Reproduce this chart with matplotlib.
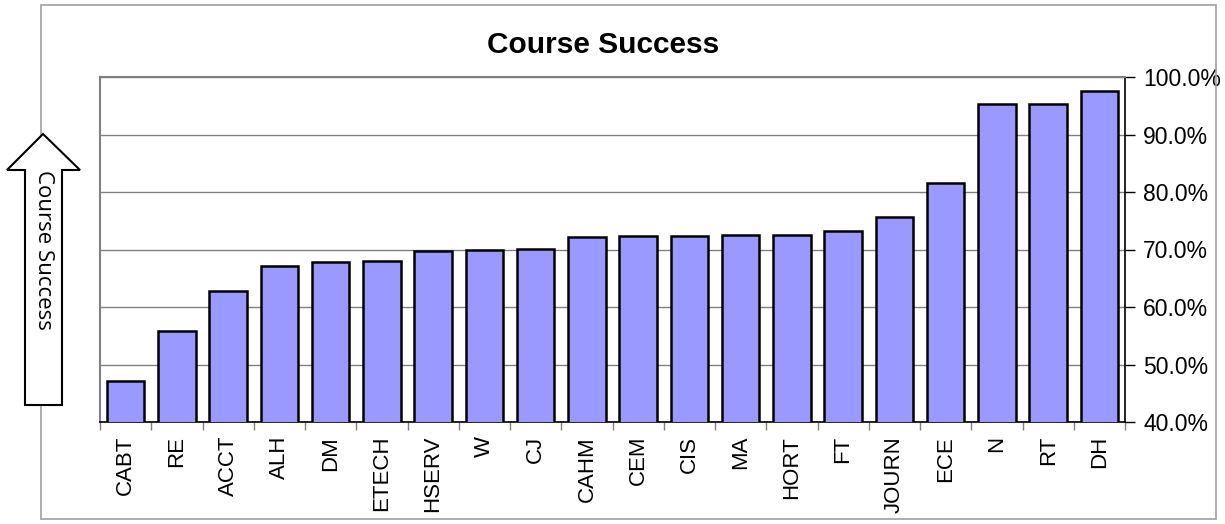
import matplotlib
matplotlib.use("Agg")
import matplotlib.pyplot as plt
from matplotlib.patches import Polygon, Rectangle
from matplotlib.ticker import FuncFormatter, MultipleLocator

programs = ["CABT", "RE", "ACCT", "ALH", "DM", "ETECH", "HSERV", "W", "CJ", "CAHM",
            "CEM", "CIS", "MA", "HORT", "FT", "JOURN", "ECE", "N", "RT", "DH"]
success = [47.1, 55.9, 62.8, 67.1, 67.9, 68.0, 69.8, 70.0, 70.1, 72.1,
           72.3, 72.4, 72.5, 72.6, 73.3, 75.7, 81.6, 95.3, 95.3, 97.5]

W, H = 1225, 524
fig = plt.figure(figsize=(W / 100, H / 100), dpi=100)

def px(x, y):
    # pixel coords (from top-left) to figure fraction
    return (x / W, 1 - y / H)

# outer chart frame
fig.patches.append(Rectangle(px(41, 519), (1216 - 41) / W, (519 - 5) / H,
                             transform=fig.transFigure, fill=False,
                             edgecolor="#a0a0a0", linewidth=1.2))

ax = fig.add_axes([100 / W, 1 - 422 / H, (1125 - 100) / W, (422 - 77) / H])
x = range(len(programs))
ax.bar(x, success, width=0.73, bottom=0, color="#9999ff", edgecolor="black",
       linewidth=1.8, zorder=3)
ax.set_xlim(-0.5, len(programs) - 0.5)
ax.set_ylim(40, 100)

ax.yaxis.set_major_locator(MultipleLocator(10))
ax.yaxis.set_major_formatter(FuncFormatter(lambda v, p: "%.1f%%" % v))
ax.yaxis.tick_right()
ax.tick_params(axis="y", direction="out", length=7, width=1, labelsize=16.5,
               pad=6, colors="black")
ax.grid(axis="y", color="#808080", linewidth=1, zorder=0)

ax.set_xticks(list(x))
ax.set_xticklabels(programs, rotation=90, fontsize=16)
ax.tick_params(axis="x", length=0, pad=10)
ax.set_xticks([i + 0.5 for i in range(-1, len(programs))], minor=True)
ax.tick_params(axis="x", which="minor", length=6, width=1, color="#808080")

for name in ["top", "left"]:
    ax.spines[name].set_color("#808080")
    ax.spines[name].set_linewidth(1.5)
ax.spines["right"].set_color("black")
ax.spines["bottom"].set_color("black")
ax.spines["right"].set_linewidth(1.2)
ax.spines["bottom"].set_linewidth(1.2)

for lbl in ax.get_xticklabels() + ax.get_yticklabels():
    lbl.set_fontfamily("Liberation Sans")

fig.text(603 / W, 1 - 45 / H, "Course Success", ha="center", va="center",
         fontsize=21.5, fontweight="bold", family="Liberation Sans")

# upward arrow with label
arrow_pts = [px(43, 134), px(80, 170), px(62, 170), px(62, 405),
             px(25, 405), px(25, 170), px(7, 170)]
fig.patches.append(Polygon(arrow_pts, closed=True, transform=fig.transFigure,
                           facecolor="white", edgecolor="black", linewidth=1.5))
fig.text(43 / W, 1 - 250 / H, "Course Success", rotation=-90, ha="center",
         va="center", fontsize=16, family="Open Sans")

fig.savefig("out.png", dpi=100)
